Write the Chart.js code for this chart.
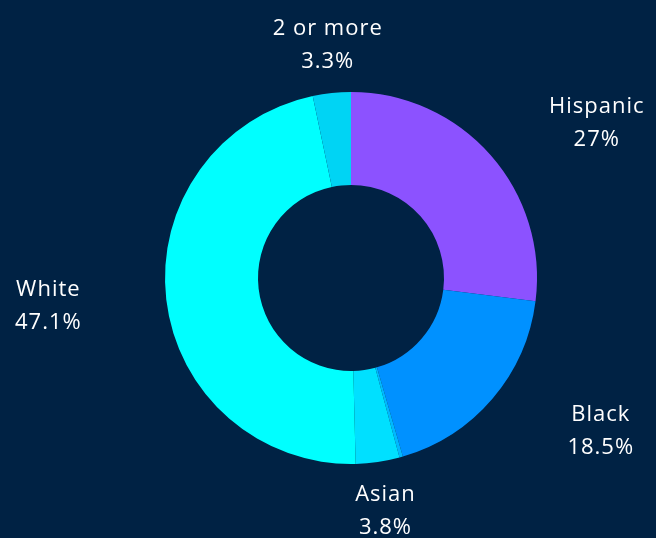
<!DOCTYPE html>
<html>
<head>
<meta charset="utf-8">
<script src="https://cdn.jsdelivr.net/npm/chart.js@4/dist/chart.umd.min.js"></script>
<style>
  html, body { margin: 0; padding: 0; background: #002244; }
  #wrap { position: relative; width: 656px; height: 538px; }
</style>
</head>
<body>
<div id="wrap"><canvas id="donut"></canvas></div>
<script>
const categories = ["Hispanic", "Black", "Other", "Asian", "White", "2 or more"];
const shares = [27, 18.5, 0.3, 3.8, 47.1, 3.3];
const sliceColors = ["#8c52ff", "#0091ff", "#00b8ff", "#00e0ff", "#00ffff", "#00d4f4"];
const showLabel = [true, true, false, true, true, true];

// labels sit outside the ring; side labels get pushed out a bit further
const outsideLabels = {
  id: "outsideLabels",
  afterDatasetsDraw(chart) {
    const { ctx, width } = chart;
    const meta = chart.getDatasetMeta(0);
    ctx.save();
    ctx.fillStyle = "#ffffff";
    ctx.font = "22px 'Open Sans', 'Noto Sans', sans-serif";
    ctx.letterSpacing = "1px";
    ctx.textAlign = "center";
    ctx.textBaseline = "middle";
    meta.data.forEach((arc, i) => {
      if (!showLabel[i]) return;
      const { x, y, startAngle, endAngle, outerRadius } = arc.getProps(
        ["x", "y", "startAngle", "endAngle", "outerRadius"], true);
      const mid = (startAngle + endAngle) / 2;
      const c = Math.cos(mid);
      const s = Math.sin(mid);
      const rx = outerRadius + 160;
      const ry = outerRadius + 49;
      let lx = x + Math.sign(c) * Math.pow(Math.abs(c), 1.19) * rx;
      const ly = y + s * ry;
      const top = categories[i];
      const bottom = shares[i] + "%";
      const half = Math.max(ctx.measureText(top).width, ctx.measureText(bottom).width) / 2;
      lx = Math.min(Math.max(lx, half + 15), width - half - 10);
      ctx.fillText(top, lx, ly - 16);
      ctx.fillText(bottom, lx, ly + 17);
    });
    ctx.restore();
  },
};

new Chart(document.getElementById("donut"), {
  type: "doughnut",
  data: {
    labels: categories,
    datasets: [
      {
        data: shares,
        backgroundColor: sliceColors,
        borderWidth: 0,
      },
    ],
  },
  options: {
    responsive: true,
    maintainAspectRatio: false,
    animation: false,
    cutout: "50%",
    layout: { padding: { left: 165, right: 119, top: 92, bottom: 74 } },
    plugins: {
      legend: { display: false },
      tooltip: { enabled: false },
    },
  },
  plugins: [outsideLabels],
});
</script>
</body>
</html>
